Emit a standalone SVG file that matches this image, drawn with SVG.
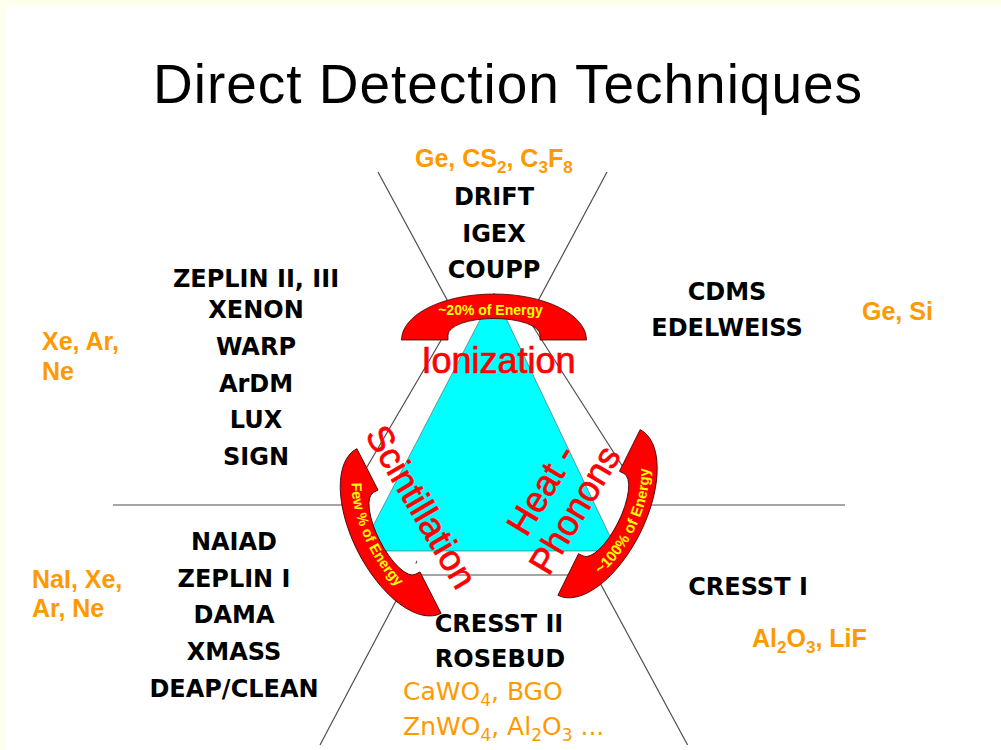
<svg xmlns="http://www.w3.org/2000/svg" xmlns:xlink="http://www.w3.org/1999/xlink" width="1001" height="750" viewBox="0 0 1001 750">
<style>
.ln{stroke:#4d4d4d;stroke-width:1.2;fill:none}
.wh{fill:#fff;stroke:none}
.band{fill:#ff0000;stroke:#3a0000;stroke-width:0.8}
.lbl{font-family:"DejaVu Sans",Verdana,sans-serif;font-weight:bold;font-size:24px;fill:#000;text-anchor:middle}
.mat{font-family:"Liberation Sans",Arial,sans-serif;font-weight:bold;font-size:25px;fill:#ff9900}
.com{font-family:"DejaVu Sans",sans-serif;font-size:25px;fill:#ff9900}
.big{font-family:"Liberation Sans",Arial,sans-serif;font-size:36px;fill:#ff0000;stroke:#ff0000;stroke-width:0.7;text-anchor:middle}
.arct{font-family:"Liberation Sans",Arial,sans-serif;font-weight:bold;fill:#ffff00;text-anchor:middle}
.title{font-family:"Liberation Sans",Arial,sans-serif;font-size:55px;fill:#000}
</style>
<defs>
<path id="half" d="M -92.5 0 A 92.5 46 0 0 1 92.5 0 Z"/>
<path id="band" d="M -92.5 0 A 92.5 46 0 0 1 92.5 0 L 46 0 L 46 -5 A 46 16.5 0 0 0 -46 -5 L -46 0 Z"/>
<path id="tpL" d="M 80 0 A 80 34 0 0 0 -80 0"/>
<path id="tpR" d="M 80 0 A 80 39.5 0 0 0 -80 0"/>
</defs>
<rect x="0" y="0" width="1001" height="750" fill="#ffffee"/>
<rect x="6" y="7" width="995" height="743" fill="#ffffff"/>
<g id="title"><text class="title" x="153" y="103" textLength="709" lengthAdjust="spacing">Direct Detection Techniques</text></g>
<g id="connectors">
<line class="ln" x1="378" y1="172" x2="687.6" y2="745"/>
<line class="ln" x1="607" y1="172" x2="493" y2="385"/>
<line class="ln" x1="425.5" y1="545" x2="320" y2="745"/>
<line class="ln" x1="113" y1="505" x2="380" y2="505"/>
<line class="ln" x1="620" y1="505" x2="845" y2="505"/>
</g>
<g id="center-field">
<polygon class="wh" points="455,316 526,316 625,470 590,575 425,575 365,470"/>
<use href="#half" class="wh" transform="translate(494,340)"/>
<use href="#half" class="wh" transform="translate(399,531) rotate(-117.1)"/>
<use href="#half" class="wh" transform="translate(599,512.5) rotate(116.4)"/>
<line class="ln" x1="455.2" y1="316" x2="354.7" y2="488"/>
<line class="ln" x1="526.4" y1="316" x2="636.4" y2="488"/>
<line class="ln" x1="415" y1="575" x2="585" y2="575"/>
</g>
<g id="triangle"><polygon points="494,293 617,551 360,551" fill="#00ffff" stroke="#555" stroke-width="0.6"/></g>
<g id="arc-ionization" transform="translate(494,340)">
<use href="#band" class="band"/>
<text class="arct" x="-3.5" y="-25" style="font-size:14px">~20% of Energy</text>
</g>
<g id="arc-scintillation" transform="translate(399,531) rotate(-117.1)">
<use href="#band" class="band"/>
<text class="arct" style="font-size:14.5px"><textPath href="#tpL" startOffset="45.5%">Few % of Energy</textPath></text>
</g>
<g id="arc-heat" transform="translate(599,512.5) rotate(116.4)">
<use href="#band" class="band"/>
<text class="arct" style="font-size:15px"><textPath href="#tpR" startOffset="52%">~100% of Energy</textPath></text>
</g>
<g id="channel-labels">
<text class="big" x="498.5" y="373">Ionization</text>
<text class="big" transform="translate(421,507) rotate(59.5)" x="0" y="12">Scintillation</text>
<g transform="translate(575,510) rotate(-59)">
<text class="big" x="0" y="-27">Heat -</text>
<text class="big" x="0" y="12">Phonons</text>
</g>
</g>
<g id="ionization-group">
<text class="mat" x="415" y="167">Ge, CS<tspan dy="6" font-size="17">2</tspan><tspan dy="-6">, C</tspan><tspan dy="6" font-size="17">3</tspan><tspan dy="-6">F</tspan><tspan dy="6" font-size="17">8</tspan></text>
<text class="lbl" x="494" y="205">DRIFT</text>
<text class="lbl" x="494" y="242">IGEX</text>
<text class="lbl" x="494" y="278">COUPP</text>
</g>
<g id="ion-scint-group">
<text class="mat" x="42" y="350">Xe, Ar,</text>
<text class="mat" x="42" y="380">Ne</text>
<text class="lbl" x="256" y="287">ZEPLIN II, III</text>
<text class="lbl" x="256" y="318">XENON</text>
<text class="lbl" x="256" y="355">WARP</text>
<text class="lbl" x="256" y="392">ArDM</text>
<text class="lbl" x="256" y="428">LUX</text>
<text class="lbl" x="256" y="465">SIGN</text>
</g>
<g id="ion-heat-group">
<text class="lbl" x="727" y="300">CDMS</text>
<text class="lbl" x="727" y="336">EDELWEISS</text>
<text class="mat" x="862" y="320">Ge, Si</text>
</g>
<g id="scintillation-group">
<text class="mat" x="32" y="588">NaI, Xe,</text>
<text class="mat" x="32" y="617">Ar, Ne</text>
<text class="lbl" x="234" y="550">NAIAD</text>
<text class="lbl" x="234" y="587">ZEPLIN I</text>
<text class="lbl" x="234" y="623">DAMA</text>
<text class="lbl" x="234" y="660">XMASS</text>
<text class="lbl" x="234" y="697">DEAP/CLEAN</text>
</g>
<g id="heat-group">
<text class="lbl" x="748" y="595">CRESST I</text>
<text class="mat" x="752" y="647">Al<tspan dy="6" font-size="17">2</tspan><tspan dy="-6">O</tspan><tspan dy="6" font-size="17">3</tspan><tspan dy="-6">, LiF</tspan></text>
</g>
<g id="scint-heat-group">
<text class="lbl" x="499" y="632">CRESST II</text>
<text class="lbl" x="500" y="667">ROSEBUD</text>
<text class="com" x="403" y="700">CaWO<tspan dy="6" font-size="17">4</tspan><tspan dy="-6">, BGO</tspan></text>
<text class="com" x="403" y="735">ZnWO<tspan dy="6" font-size="17">4</tspan><tspan dy="-6">, Al</tspan><tspan dy="6" font-size="17">2</tspan><tspan dy="-6">O</tspan><tspan dy="6" font-size="17">3</tspan><tspan dy="-6"> ...</tspan></text>
</g>
</svg>
